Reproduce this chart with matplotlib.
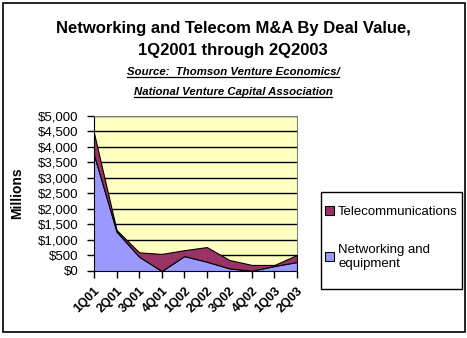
import matplotlib
matplotlib.use("Agg")
import matplotlib.pyplot as plt
from matplotlib.patches import Patch, Rectangle
from matplotlib.lines import Line2D
from matplotlib.ticker import FuncFormatter, MultipleLocator

quarters = ["1Q01", "2Q01", "3Q01", "4Q01", "1Q02", "2Q02", "3Q02", "4Q02", "1Q03", "2Q03"]
networking = [3740, 1270, 460, 0, 480, 300, 85, 10, 160, 290]
telecom = [700, 50, 140, 550, 190, 470, 270, 185, 35, 225]

plt.rcParams['font.family'] = ['Liberation Sans', 'DejaVu Sans']

W, H = 467, 338
fig = plt.figure(figsize=(W / 100, H / 100), dpi=100)
fig.patch.set_facecolor("white")

# outer border
fig.add_artist(Rectangle((3 / W, 6 / H), 462 / W, 329 / H, transform=fig.transFigure,
                         fill=False, edgecolor="black", linewidth=1.2))

ax = fig.add_axes([94 / W, (H - 271) / H, 203 / W, 155.3 / H])
ax.set_facecolor("#FFFFC0")
x = list(range(len(quarters)))
ax.stackplot(x, networking, telecom, colors=["#9999FF", "#993366"],
             edgecolor="black", linewidth=0.8, zorder=3)
ax.set_xlim(0, len(quarters) - 1)
ax.set_ylim(0, 5000)
ax.yaxis.set_major_locator(MultipleLocator(500))
ax.yaxis.set_major_formatter(FuncFormatter(lambda v, p: "${:,.0f}".format(v)))
ax.grid(axis="y", color="black", linewidth=1.0, zorder=1)
ax.set_axisbelow(True)
ax.set_xticks(x)
ax.set_xticklabels(quarters, rotation=45, ha="right", va="top", fontsize=9, fontweight="bold",
                   rotation_mode="anchor")
ax.tick_params(axis="x", length=5, width=1, direction="out", pad=5)
ax.tick_params(axis="y", length=5, width=1, direction="out", labelsize=9.5, pad=6)
for s in ["top", "right"]:
    ax.spines[s].set_color("#808080")
ax.spines["left"].set_color("black")
ax.spines["bottom"].set_color("black")

fig.text(17 / W, 1 - 193 / H, "Millions", rotation=90, ha="center", va="center",
         fontsize=10, fontweight="bold")

fig.text(233 / W, 1 - 28 / H, "Networking and Telecom M&A By Deal Value,", ha="center", va="center",
         fontsize=12, fontweight="bold")
fig.text(233 / W, 1 - 50 / H, "1Q2001 through 2Q2003", ha="center", va="center",
         fontsize=12, fontweight="bold")
s1 = fig.text(233 / W, 1 - 72 / H, "Source:  Thomson Venture Economics/", ha="center", va="center",
              fontsize=8.2, fontweight="bold", style="italic")
s2 = fig.text(233 / W, 1 - 92 / H, "National Venture Capital Association", ha="center", va="center",
              fontsize=8.2, fontweight="bold", style="italic")

# legend frame
fig.add_artist(Rectangle((321 / W, 1 - 289 / H), 141 / W, 97 / H, transform=fig.transFigure,
                         fill=True, facecolor="white", edgecolor="black", linewidth=1.0))
handles = [Patch(facecolor="#993366", edgecolor="black", linewidth=0.8),
           Patch(facecolor="#9999FF", edgecolor="black", linewidth=0.8)]
leg = fig.legend(handles, ["Telecommunications", "Networking and\nequipment"],
                 loc="center left", bbox_to_anchor=(325 / W, 1 - 238 / H),
                 frameon=False, fontsize=9.5, handlelength=0.65, handleheight=0.65,
                 handletextpad=0.35, labelspacing=1.97, borderpad=0, borderaxespad=0)

# underline subtitles
fig.canvas.draw()
r = fig.canvas.get_renderer()
for t in (s1, s2):
    bb = t.get_window_extent(r)
    y = bb.y0 + 0.5
    fig.add_artist(Line2D([bb.x0 / W, bb.x1 / W], [y / H, y / H], transform=fig.transFigure,
                          color="black", linewidth=0.9))

fig.savefig("out.png", dpi=100)
